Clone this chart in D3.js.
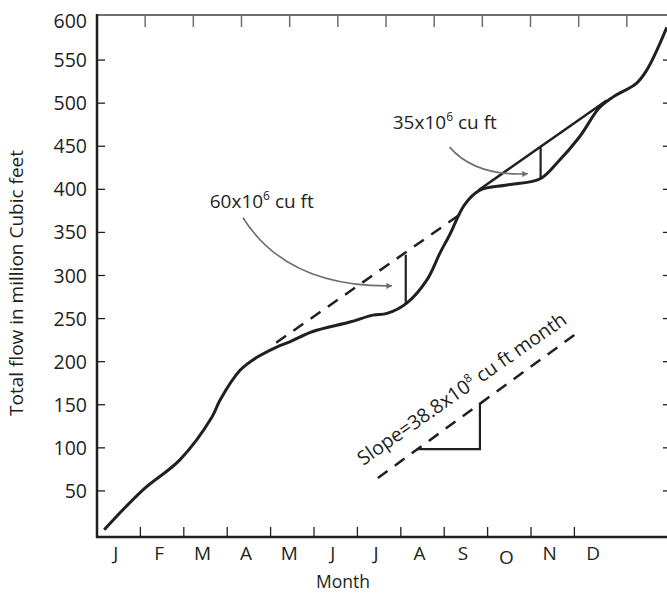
<!DOCTYPE html>
<html>
<head>
<meta charset="utf-8">
<script src="https://cdn.jsdelivr.net/npm/d3@7"></script>
<style>
  body { margin: 0; background: #fff; }
  svg text { font-family: "Open Sans", sans-serif; fill: #231f20; }
</style>
</head>
<body>
<svg id="chart" width="667" height="601"></svg>
<script>
// month labels and y tick values
var months = ['J','F','M','A','M','J','J','A','S','O','N','D'];
var yTicks = [50,100,150,200,250,300,350,400,450,500,550,600];

// mass curve: time in months since 1 Jan, total flow in million cu ft
var flowMonth = [0.15,0.95,1.72,2.39,2.55,2.97,3.32,3.73,4.00,4.48,5.25,5.73,6.02,6.43,6.85,7.12,7.32,7.63,7.95,8.51,9.19,9.54,10.02,10.42,10.71,11.20,11.41,11.62,11.83];
var flowTotal = [5,51,86,136,155,190,205,217,223,235,246,254,256,268,295,326,347,382,399,405,412,430,461,494,507,523,538,561,588];

// tangent lines (month, total)
var dashMonth = [3.72, 7.49];
var dashTotal = [222, 369];
var solidMonth = [7.92, 10.58];
var solidTotal = [399, 503];

// deficits
var gapMonth = [6.41, 9.21];
var gapLow = [268, 412];
var gapHigh = [324, 449];
var gapText = ['60x10', '35x10'];

// slope key
var keyMonth = [5.83, 10.06];
var keyTotal = [65, 237];
var triMonth = [6.64, 7.95, 7.95];
var triTotal = [98.6, 98.6, 152];

var svg = d3.select('#chart');

var x = d3.scaleLinear().domain([0, 12]).range([97, 675]);
var xb = d3.scaleLinear().domain([0, 12]).range([97, 617.8]);
var y = d3.scaleLinear().domain([0, 600]).range([534, 17]);

var ink = '#231f20';

// frame
svg.append('line').attr('x1', 97).attr('x2', 667).attr('y1', 15).attr('y2', 15)
   .attr('stroke', '#6d6e71').attr('stroke-width', 2);
svg.append('line').attr('x1', 97).attr('x2', 97).attr('y1', 14).attr('y2', 538)
   .attr('stroke', ink).attr('stroke-width', 2.5);
svg.append('line').attr('x1', 96).attr('x2', 667).attr('y1', 537).attr('y2', 537)
   .attr('stroke', ink).attr('stroke-width', 2.5);

// top ticks
svg.selectAll('.top-tick').data(d3.range(1, 12)).enter().append('line')
   .attr('class', 'top-tick')
   .attr('x1', function(d){ return x(d); }).attr('x2', function(d){ return x(d); })
   .attr('y1', 15).attr('y2', 27)
   .attr('stroke', '#6d6e71').attr('stroke-width', 1.5);

// bottom ticks
svg.selectAll('.bot-tick').data(d3.range(1, 12)).enter().append('line')
   .attr('class', 'bot-tick')
   .attr('x1', function(d){ return xb(d); }).attr('x2', function(d){ return xb(d); })
   .attr('y1', 537).attr('y2', 527)
   .attr('stroke', ink).attr('stroke-width', 1.3);

// left and right ticks
var inner = yTicks.filter(function(d){ return d < 600; });
svg.selectAll('.left-tick').data(inner).enter().append('line')
   .attr('class', 'left-tick')
   .attr('x1', 97).attr('x2', 105)
   .attr('y1', function(d){ return y(d); }).attr('y2', function(d){ return y(d); })
   .attr('stroke', ink).attr('stroke-width', 1.3);
svg.selectAll('.right-tick').data(inner).enter().append('line')
   .attr('class', 'right-tick')
   .attr('x1', 663).attr('x2', 672)
   .attr('y1', function(d){ return y(d); }).attr('y2', function(d){ return y(d); })
   .attr('stroke', ink).attr('stroke-width', 1.3);

// y labels
svg.selectAll('.y-label').data(yTicks).enter().append('text')
   .attr('class', 'y-label')
   .attr('x', 87).attr('y', function(d){ return y(d) + (d === 600 ? 11 : 7); })
   .attr('text-anchor', 'end').style('font-size', '19.5px')
   .text(function(d){ return d; });

// month labels
svg.selectAll('.m-label').data(months).enter().append('text')
   .attr('class', 'm-label')
   .attr('x', function(d, i){ return xb(i + 0.5) - 3; })
   .attr('y', function(d, i){ return i === 9 ? 564 : 560; })
   .attr('text-anchor', 'middle').style('font-size', '19px')
   .text(function(d){ return d; });

svg.append('text').attr('x', 343).attr('y', 588).attr('text-anchor', 'middle')
   .style('font-size', '17.5px').text('Month');
svg.append('text').attr('transform', 'translate(23,283) rotate(-90)')
   .attr('text-anchor', 'middle').style('font-size', '19px')
   .text('Total flow in million Cubic feet');

// curve
var pts = flowMonth.map(function(m, i){ return [m, flowTotal[i]]; });
var line = d3.line().x(function(d){ return x(d[0]); }).y(function(d){ return y(d[1]); });
svg.append('path').datum(pts)
   .attr('d', line.curve(d3.curveCatmullRom.alpha(0.5)))
   .attr('fill', 'none').attr('stroke', ink).attr('stroke-width', 3);

var straight = d3.line().x(function(d){ return x(d[0]); }).y(function(d){ return y(d[1]); });
svg.append('path').datum(dashMonth.map(function(m, i){ return [m, dashTotal[i]]; }))
   .attr('d', straight).attr('fill', 'none').attr('stroke', ink)
   .attr('stroke-width', 2.5).attr('stroke-dasharray', '12,9');
svg.append('path').datum(solidMonth.map(function(m, i){ return [m, solidTotal[i]]; }))
   .attr('d', straight).attr('fill', 'none').attr('stroke', ink).attr('stroke-width', 2.5);

// deficit bars
svg.selectAll('.gap').data(gapMonth).enter().append('line')
   .attr('class', 'gap')
   .attr('x1', function(d){ return x(d); }).attr('x2', function(d){ return x(d); })
   .attr('y1', function(d, i){ return y(gapLow[i]); })
   .attr('y2', function(d, i){ return y(gapHigh[i]); })
   .attr('stroke', ink).attr('stroke-width', 2.2);

// arrows
var defs = svg.append('defs');
defs.append('marker').attr('id', 'head').attr('viewBox', '0 0 10 10')
    .attr('refX', 9).attr('refY', 5).attr('markerWidth', 8).attr('markerHeight', 6)
    .attr('markerUnits', 'userSpaceOnUse').attr('orient', 'auto')
    .append('path').attr('d', 'M0,0 L10,5 L0,10 Z').attr('fill', '#6d6e71');

var arrowFrom = [[3.03, 367], [7.32, 449]];
var arrowVia = [[3.95, 286], [7.85, 415]];
var arrowTo = [[6.12, 288], [8.94, 418]];
arrowFrom.forEach(function(a, i){
  var p = d3.path();
  p.moveTo(x(a[0]), y(a[1]));
  p.quadraticCurveTo(x(arrowVia[i][0]), y(arrowVia[i][1]), x(arrowTo[i][0]), y(arrowTo[i][1]));
  svg.append('path').attr('d', p.toString()).attr('fill', 'none')
     .attr('stroke', '#6d6e71').attr('stroke-width', 1.6).attr('marker-end', 'url(#head)');
});

var labelAt = [[2.34, 378], [6.14, 470]];
labelAt.forEach(function(a, i){
  var t = svg.append('text').attr('x', x(a[0])).attr('y', y(a[1])).style('font-size', '19px');
  t.append('tspan').text(gapText[i]);
  t.append('tspan').attr('dy', -8).style('font-size', '12px').text('6');
  t.append('tspan').attr('dy', 8).text(' cu ft');
});

// slope key
svg.append('path').datum(keyMonth.map(function(m, i){ return [m, keyTotal[i]]; }))
   .attr('d', straight).attr('fill', 'none').attr('stroke', ink)
   .attr('stroke-width', 2.5).attr('stroke-dasharray', '12,9');
svg.append('path').datum(triMonth.map(function(m, i){ return [m, triTotal[i]]; }))
   .attr('d', straight).attr('fill', 'none').attr('stroke', ink).attr('stroke-width', 2.2);

var st = svg.append('text')
   .attr('transform', 'translate(' + x(5.53) + ',' + y(79) + ') rotate(-35)')
   .style('font-size', '19.5px');
st.append('tspan').text('Slope=38.8x10');
st.append('tspan').attr('dy', -8).style('font-size', '12px').text('8');
st.append('tspan').attr('dy', 8).text('  cu ft month');
</script>
</body>
</html>
